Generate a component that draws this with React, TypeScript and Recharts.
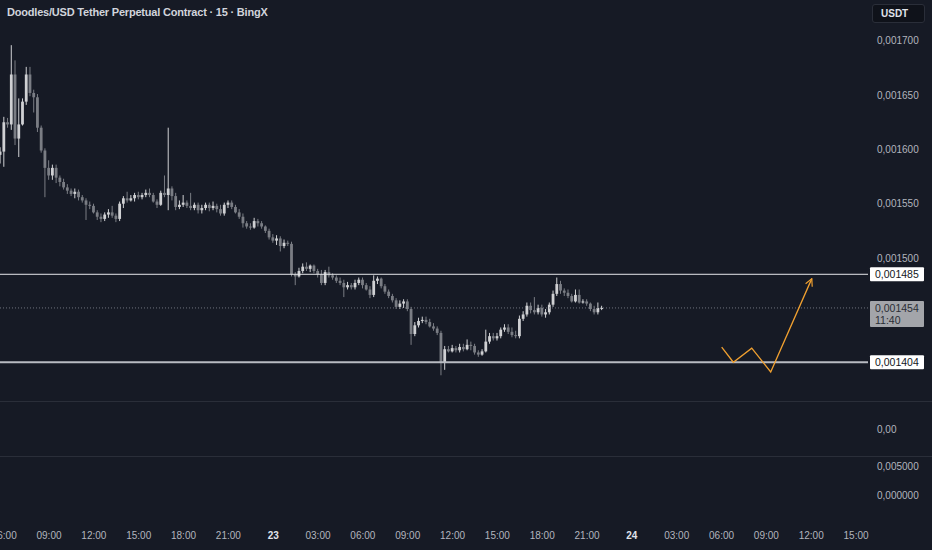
import React from 'react'
import { ComposedChart, Bar, Line, XAxis, YAxis, ReferenceLine } from 'recharts'

// 15 minute candles, prices in units of 0.000001 USDT
// first candle opens 22nd 05:45, hours counted from 22nd 00:00
const firstHour = 5.75
const candleHours = 0.25

const opens = [
  1595, 1598, 1625, 1623, 1669, 1610, 1623, 1644, 1669, 1652,
  1648, 1620, 1599, 1583, 1576, 1583, 1574, 1570, 1565, 1562,
  1559, 1561, 1556, 1553, 1549, 1548, 1542, 1538, 1536, 1540,
  1542, 1539, 1536, 1550, 1555, 1553, 1555, 1558, 1556, 1558,
  1560, 1558, 1552, 1549, 1560, 1558, 1564, 1557, 1547, 1549,
  1551, 1548, 1546, 1549, 1544, 1546, 1549, 1546, 1548, 1545,
  1541, 1549, 1551, 1547, 1542, 1538, 1532, 1529, 1528, 1534,
  1532, 1529, 1525, 1519, 1516, 1518, 1511, 1514, 1513, 1485,
  1483, 1488, 1492, 1490, 1493, 1488, 1485, 1477, 1487, 1484,
  1482, 1479, 1477, 1473, 1475, 1473, 1477, 1480, 1475, 1471,
  1466, 1479, 1481, 1474, 1469, 1465, 1461, 1455, 1458, 1460,
  1453, 1430, 1438, 1442, 1443, 1441, 1437, 1435, 1431, 1404,
  1416, 1414, 1417, 1415, 1418, 1416, 1420, 1419, 1413, 1411,
  1414, 1423, 1428, 1426, 1428, 1434, 1436, 1432, 1429, 1428,
  1444, 1448, 1456, 1452, 1450, 1454, 1448, 1450, 1457, 1467,
  1476, 1470, 1468, 1465, 1460, 1466, 1459, 1460, 1458, 1453,
  1450, 1454,
]
const highs = [
  1602, 1630, 1629, 1696, 1682, 1647, 1647, 1676, 1676, 1655,
  1651, 1622, 1601, 1590, 1586, 1586, 1576, 1573, 1568, 1564,
  1564, 1563, 1558, 1555, 1552, 1550, 1544, 1541, 1542, 1545,
  1548, 1541, 1552, 1557, 1561, 1558, 1560, 1561, 1560, 1563,
  1564, 1560, 1554, 1562, 1576, 1620, 1566, 1560, 1553, 1558,
  1553, 1560, 1551, 1551, 1549, 1551, 1551, 1552, 1550, 1549,
  1551, 1553, 1553, 1549, 1545, 1541, 1534, 1532, 1537, 1536,
  1534, 1530, 1527, 1522, 1521, 1520, 1517, 1516, 1515, 1487,
  1491, 1495, 1496, 1494, 1494, 1490, 1489, 1489, 1492, 1486,
  1484, 1482, 1480, 1478, 1477, 1480, 1482, 1482, 1477, 1474,
  1484, 1483, 1482, 1476, 1471, 1467, 1463, 1461, 1462, 1462,
  1455, 1441, 1445, 1446, 1446, 1444, 1440, 1437, 1433, 1419,
  1419, 1420, 1419, 1421, 1421, 1425, 1423, 1421, 1415, 1416,
  1434, 1431, 1431, 1431, 1436, 1439, 1439, 1436, 1433, 1447,
  1451, 1459, 1459, 1464, 1457, 1457, 1453, 1459, 1470, 1482,
  1479, 1472, 1471, 1467, 1471, 1471, 1462, 1462, 1459, 1456,
  1459, 1456,
]
const lows = [
  1587, 1584, 1620, 1618, 1604, 1593, 1622, 1641, 1649, 1634,
  1616, 1597, 1556, 1572, 1572, 1569, 1566, 1563, 1559, 1557,
  1555, 1553, 1551, 1535, 1545, 1541, 1535, 1533, 1534, 1537,
  1537, 1533, 1534, 1546, 1551, 1552, 1552, 1554, 1554, 1556,
  1556, 1551, 1546, 1548, 1556, 1544, 1553, 1544, 1545, 1547,
  1546, 1544, 1544, 1541, 1541, 1544, 1543, 1544, 1542, 1539,
  1539, 1546, 1545, 1541, 1536, 1528, 1527, 1526, 1527, 1529,
  1527, 1523, 1517, 1514, 1512, 1506, 1509, 1511, 1483, 1475,
  1482, 1486, 1488, 1487, 1486, 1482, 1475, 1475, 1482, 1480,
  1477, 1475, 1464, 1471, 1471, 1471, 1475, 1472, 1470, 1463,
  1464, 1476, 1472, 1467, 1463, 1459, 1453, 1453, 1454, 1451,
  1420, 1428, 1436, 1440, 1439, 1436, 1433, 1429, 1392, 1397,
  1413, 1413, 1413, 1413, 1414, 1415, 1415, 1411, 1409, 1410,
  1413, 1421, 1424, 1424, 1426, 1432, 1430, 1427, 1426, 1426,
  1442, 1446, 1449, 1448, 1448, 1446, 1445, 1448, 1455, 1465,
  1467, 1465, 1463, 1459, 1459, 1458, 1458, 1456, 1451, 1448,
  1448, 1452,
]
const closes = [
  1598, 1625, 1623, 1669, 1610, 1623, 1644, 1669, 1652, 1648,
  1620, 1599, 1583, 1576, 1583, 1574, 1570, 1565, 1562, 1559,
  1561, 1556, 1553, 1549, 1548, 1542, 1538, 1536, 1540, 1542,
  1539, 1536, 1550, 1555, 1553, 1555, 1558, 1556, 1558, 1560,
  1558, 1552, 1549, 1560, 1558, 1564, 1557, 1547, 1549, 1551,
  1548, 1546, 1549, 1544, 1546, 1549, 1546, 1548, 1545, 1541,
  1549, 1551, 1547, 1542, 1538, 1532, 1529, 1528, 1534, 1532,
  1529, 1525, 1519, 1516, 1518, 1511, 1514, 1513, 1485, 1483,
  1488, 1492, 1490, 1493, 1488, 1485, 1477, 1487, 1484, 1482,
  1479, 1477, 1473, 1475, 1473, 1477, 1480, 1475, 1471, 1466,
  1479, 1481, 1474, 1469, 1465, 1461, 1455, 1458, 1460, 1453,
  1430, 1438, 1442, 1443, 1441, 1437, 1435, 1431, 1404, 1416,
  1414, 1417, 1415, 1418, 1416, 1420, 1419, 1413, 1411, 1414,
  1423, 1428, 1426, 1428, 1434, 1436, 1432, 1429, 1428, 1444,
  1448, 1456, 1452, 1450, 1454, 1448, 1450, 1457, 1467, 1476,
  1470, 1468, 1465, 1460, 1466, 1459, 1460, 1458, 1453, 1450,
  1454, 1454,
]

const levelHigh = 1485
const levelLow = 1404
const lastPrice = 1454
const countdown = '11:40'

// hand drawn projection
const sketchHours = [54.01, 54.79, 56.02, 57.29, 60.04]
const sketchPrices = [1418, 1404, 1417, 1395, 1481]

const priceTicks = [1500, 1550, 1600, 1650, 1700]
const timeTicks = [6, 9, 12, 15, 18, 21, 24, 27, 30, 33, 36, 39, 42, 45, 48, 51, 54, 57, 60, 63]

const candles = opens.map((open, i) => ({
  t: firstHour + i * candleHours,
  open,
  high: highs[i],
  low: lows[i],
  close: closes[i],
}))
const sketch = sketchHours.map((t, i) => ({ t, p: sketchPrices[i] }))

const BG = '#161a25'
const GRID = '#2a2e39'
const TEXT = '#b2b5be'
const UP = '#cfd0d3'
const DOWN = '#7a7d84'
const ORANGE = '#f0a030'
const FONT = '"Liberation Sans", Arial, sans-serif'
const W = 932
const AXIS_W = 64
const X_DOMAIN = [5.72, 63.8]

const fmtPrice = (v: number) => (v / 1e6).toFixed(6).replace('.', ',')

function Candle(props: any) {
  const { x, y, width, height, payload } = props
  if (!payload || height == null) return null
  const { open, close, high, low } = payload
  const top = Math.min(y, y + height)
  const h = Math.abs(height)
  const py = (v: number) => top + ((high - v) / (high - low)) * h
  const cx = x + width / 2
  const color = close >= open ? UP : DOWN
  const b1 = py(Math.max(open, close))
  const b2 = py(Math.min(open, close))
  return (
    <g>
      <line x1={cx} x2={cx} y1={top} y2={top + h} stroke={color} strokeWidth={1} />
      <rect x={cx - 1.4} y={b1} width={2.8} height={Math.max(1, b2 - b1)} fill={color} />
    </g>
  )
}

function AxisTag(props: any) {
  const { viewBox, lines, bg, fg } = props
  if (!viewBox) return null
  const x = viewBox.x + viewBox.width + 2
  const y = viewBox.y
  const h = lines.length * 12 + 2
  return (
    <g>
      <rect x={x} y={y - 7} width={54} height={h} fill={bg} rx={1} />
      {lines.map((s: string, i: number) => (
        <text key={i} x={x + 5} y={y + i * 12} dy="0.35em" fontSize={10.5} fill={fg} fontFamily={FONT}>
          {s}
        </text>
      ))}
    </g>
  )
}

function TimeTick(props: any) {
  const { x, y, payload } = props
  const h = payload.value
  const isDay = h % 24 === 0
  const label = isDay ? String(22 + h / 24) : String(h % 24).padStart(2, '0') + ':00'
  return (
    <text x={x} y={y} dy="0.71em" textAnchor="middle" fontSize={10} fontFamily={FONT}
      fill={isDay ? '#e0e3eb' : TEXT} fontWeight={isDay ? 700 : 400}>
      {label}
    </text>
  )
}

const yTick = { fill: TEXT, fontSize: 10, fontFamily: FONT }

export default function App() {
  return (
    <div style={{ position: 'absolute', left: 0, top: 0, width: W, height: 550, background: BG, overflow: 'hidden', fontFamily: FONT }}>
      <ComposedChart width={W} height={401} data={candles} margin={{ top: 0, right: 0, bottom: 0, left: 0 }}>
        <defs>
          <marker id="arrowhead" viewBox="0 0 10 10" refX="9" refY="5" markerWidth="9" markerHeight="9" orient="auto" markerUnits="userSpaceOnUse">
            <path d="M1,1 L9,5 L1,9" fill="none" stroke={ORANGE} strokeWidth={1.3} />
          </marker>
        </defs>
        <XAxis dataKey="t" type="number" domain={X_DOMAIN} allowDataOverflow hide />
        <YAxis orientation="right" width={AXIS_W} domain={[1368.3, 1737.6]} allowDataOverflow ticks={priceTicks}
          tickFormatter={fmtPrice} axisLine={false} tickLine={false} tickMargin={3} tick={yTick} />
        <ReferenceLine y={levelHigh} stroke="#e6e7ea" strokeWidth={1}
          label={<AxisTag lines={[fmtPrice(levelHigh)]} bg="#ffffff" fg="#131722" />} />
        <ReferenceLine y={levelLow} stroke="#b8bbc2" strokeWidth={2}
          label={<AxisTag lines={[fmtPrice(levelLow)]} bg="#ffffff" fg="#131722" />} />
        <ReferenceLine y={lastPrice} stroke="#6f737d" strokeDasharray="1 2"
          label={<AxisTag lines={[fmtPrice(lastPrice), countdown]} bg="#a3a5aa" fg="#2a2d35" />} />
        <Bar dataKey={(d: any) => [d.low, d.high]} barSize={3} shape={<Candle />} isAnimationActive={false} />
        <Line data={sketch} dataKey="p" stroke={ORANGE} strokeWidth={1.3} dot={false} activeDot={false}
          markerEnd="url(#arrowhead)" isAnimationActive={false} />
      </ComposedChart>

      <div style={{ borderTop: `1px solid ${GRID}`, height: 54 }}>
        <ComposedChart width={W} height={54} data={candles} margin={{ top: 0, right: 0, bottom: 0, left: 0 }}>
          <XAxis dataKey="t" type="number" domain={X_DOMAIN} allowDataOverflow hide />
          <YAxis orientation="right" width={AXIS_W} domain={[-1, 1]} allowDataOverflow ticks={[0]}
            tickFormatter={(v: number) => v.toFixed(2).replace('.', ',')}
            axisLine={false} tickLine={false} tickMargin={3} tick={yTick} />
        </ComposedChart>
      </div>

      <div style={{ borderTop: `1px solid ${GRID}`, height: 93 }}>
        <ComposedChart width={W} height={93} data={candles} margin={{ top: 0, right: 0, bottom: 0, left: 0 }}>
          <XAxis dataKey="t" type="number" domain={X_DOMAIN} allowDataOverflow ticks={timeTicks} interval={0}
            height={26} axisLine={false} tickLine={false} tick={<TimeTick />} />
          <YAxis orientation="right" width={AXIS_W} domain={[-0.005, 0.00655]} allowDataOverflow ticks={[0.005, 0]}
            tickFormatter={(v: number) => v.toFixed(6).replace('.', ',')}
            axisLine={false} tickLine={false} tickMargin={3} tick={yTick} />
        </ComposedChart>
      </div>

      <div style={{ position: 'absolute', left: 7, top: 6, fontSize: 11, fontWeight: 700, letterSpacing: -0.2, color: '#d1d4dc', whiteSpace: 'nowrap' }}>
        Doodles/USD Tether Perpetual Contract · 15 · BingX
      </div>
      <div style={{ position: 'absolute', left: 872, top: 4, width: 53, height: 19, boxSizing: 'border-box', border: `1px solid ${GRID}`,
        borderRadius: 3, background: '#0f121a', color: '#e0e3eb', fontSize: 10, fontWeight: 700, paddingLeft: 8, lineHeight: '18px' }}>
        USDT
      </div>
    </div>
  )
}
